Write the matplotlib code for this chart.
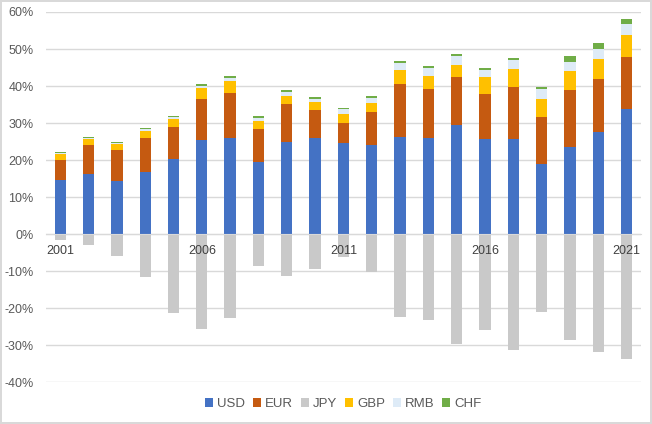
import matplotlib.pyplot as plt
import numpy as np

years = list(range(2001, 2022))
usd = [14.6, 16.3, 14.2, 16.8, 20.2, 25.3, 26.0, 19.5, 24.9, 26.0, 24.7,
       24.0, 26.2, 25.9, 29.5, 25.6, 25.6, 19.0, 23.4, 27.6, 33.8]
eur = [5.3, 7.7, 8.5, 9.1, 8.8, 11.1, 12.2, 9.0, 10.3, 7.6, 5.3,
       9.0, 14.4, 13.3, 12.9, 12.2, 14.0, 12.7, 15.5, 14.4, 14.0]
jpy = [-1.7, -3.0, -5.9, -11.5, -21.3, -25.6, -22.6, -8.7, -11.4, -9.4, -6.1,
       -10.4, -22.3, -23.3, -29.6, -25.9, -31.3, -21.0, -28.7, -31.9, -33.8]
gbp = [1.8, 1.7, 1.6, 1.9, 2.1, 3.0, 3.2, 2.0, 2.1, 2.0, 2.4,
       2.4, 3.7, 3.5, 3.3, 4.5, 5.0, 4.9, 5.2, 5.3, 5.9]
rmb = [0.2, 0.2, 0.4, 0.5, 0.5, 0.6, 0.7, 0.9, 1.1, 0.9, 1.4,
       1.4, 1.8, 2.2, 2.4, 2.1, 2.5, 2.5, 2.5, 2.7, 3.1]
chf = [0.3, 0.3, 0.3, 0.3, 0.4, 0.5, 0.5, 0.5, 0.5, 0.5, 0.3,
       0.4, 0.6, 0.4, 0.5, 0.6, 0.6, 0.6, 1.5, 1.7, 1.4]

grey = '#595959'
plt.rcParams['font.family'] = ['Liberation Sans', 'DejaVu Sans']

fig = plt.figure(figsize=(6.52, 4.24), dpi=100)
fig.patch.set_edgecolor('#D9D9D9')
fig.patch.set_linewidth(1.5)
ax = fig.add_axes([0.0706, 0.099, 0.9124, 0.8727])

x = np.arange(len(years))
w = 0.4
bottom = np.zeros(len(years))
for name, vals, col in [('USD', usd, '#4472C4'), ('EUR', eur, '#C55A11')]:
    ax.bar(x, vals, w, bottom=bottom, color=col, label=name, zorder=2)
    bottom += np.array(vals)
ax.bar(x, jpy, w, color='#C9C9C9', label='JPY', zorder=2)
for name, vals, col in [('GBP', gbp, '#FFC000'), ('RMB', rmb, '#DEEBF7'), ('CHF', chf, '#70AD47')]:
    ax.bar(x, vals, w, bottom=bottom, color=col, label=name, zorder=2)
    bottom += np.array(vals)

ax.set_xlim(-0.5, len(years) - 0.5)
ax.set_ylim(-40, 60)
ax.set_yticks(range(-40, 61, 10))
ax.set_yticklabels([f'{v}%' for v in range(-40, 61, 10)])
ax.yaxis.grid(True, color='#D9D9D9', linewidth=1)
ax.set_axisbelow(True)

ax.set_xticks(x[::5])
ax.set_xticklabels([str(y) for y in years[::5]], fontweight='bold')
ax.spines['bottom'].set_position(('data', 0))
ax.spines['bottom'].set_color('#D9D9D9')
ax.xaxis.set_zorder(3)
for s in ['top', 'right', 'left']:
    ax.spines[s].set_visible(False)
ax.tick_params(axis='x', length=0, pad=8, labelsize=9, labelcolor='#404040')
ax.tick_params(axis='y', length=0, pad=9, labelsize=9, labelcolor=grey)

ax.legend(loc='center', bbox_to_anchor=(0.5, -0.06), ncol=6, frameon=False,
          fontsize=9.5, labelcolor=grey, handlelength=0.6, handleheight=0.6,
          handletextpad=0.3, columnspacing=0.6, borderpad=0)

fig.savefig('out.png', dpi=100)
